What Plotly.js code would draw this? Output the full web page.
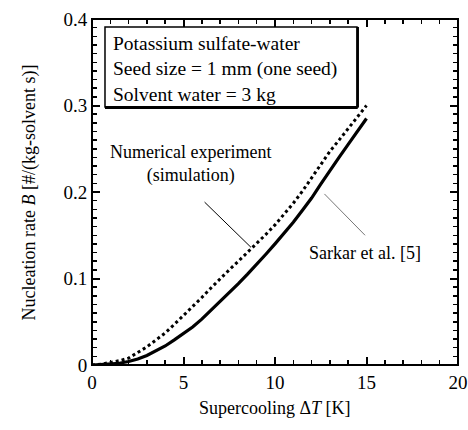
<!DOCTYPE html>
<html><head><meta charset="utf-8">
<script src="https://cdn.plot.ly/plotly-3.0.1.min.js"></script>
<style>body{margin:0;background:#fff}</style>
</head><body>
<div id="chart" style="width:468px;height:430px"></div>
<script>
var supercooling = [0,0.5,1,1.5,2,2.5,3,3.5,4,4.5,5,5.5,6,6.5,7,7.5,8,8.5,9,9.5,10,10.5,11,11.5,12,12.5,13,13.5,14,14.5,15];
var simulationB = [0,0.001,0.003,0.005,0.008,0.014,0.021,0.029,0.037,0.047,0.057,0.067,0.078,0.089,0.100,0.110,0.120,0.130,0.141,0.151,0.162,0.174,0.187,0.201,0.216,0.232,0.247,0.260,0.273,0.287,0.300];
var sarkarB = [0,0.0005,0.001,0.002,0.004,0.007,0.011,0.016,0.022,0.029,0.036,0.044,0.053,0.063,0.074,0.084,0.094,0.105,0.116,0.128,0.140,0.152,0.165,0.179,0.193,0.209,0.225,0.240,0.255,0.270,0.285];
var infoLines = ['Potassium sulfate-water','Seed size = 1 mm (one seed)','Solvent water = 3 kg'];
var xTitle = 'Supercooling \u0394<i>T</i> [K]';
var yTitle = 'Nucleation rate <i>B</i> [#/(kg-solvent s)]';

var font = 'Liberation Serif';
var traces = [
  {x: supercooling, y: sarkarB, mode: 'lines', showlegend: false, line: {color: '#000', width: 3.2}},
  {x: supercooling, y: simulationB, mode: 'lines', showlegend: false, line: {color: '#000', width: 3, dash: '3px,3px'}}
];
function axis(range, dtick, minorDtick) {
  return {
    range: range, dtick: dtick, showgrid: false, zeroline: false,
    showline: true, linecolor: '#000', mirror: 'allticks',
    ticks: 'inside', ticklen: 8, tickwidth: 2, tickcolor: '#000',
    minor: {ticks: 'inside', dtick: minorDtick, ticklen: 5, tickwidth: 1.5, tickcolor: '#000'},
    tickfont: {family: font, size: 19}
  };
}
var layout = {
  width: 468, height: 430,
  margin: {l: 92, r: 10, t: 19, b: 65},
  paper_bgcolor: '#fff', plot_bgcolor: '#fff',
  font: {family: font, color: '#000'},
  xaxis: axis([0, 20], 5, 1),
  yaxis: axis([0, 0.4], 0.1, 0.01),
  shapes: [
    {type: 'rect', xref: 'paper', yref: 'paper', x0: 0, x1: 1, y0: 0, y1: 1, line: {color: '#000', width: 2}, layer: 'above'},
    {type: 'rect', xref: 'paper', yref: 'paper', x0: 0.0355, x1: 0.724, y0: 0.746, y1: 0.977, line: {color: '#000', width: 1.5}, fillcolor: '#fff'},
    {type: 'line', xref: 'paper', yref: 'paper', x0: 0.0355, x1: 0.726, y0: 0.744, y1: 0.744, line: {color: '#000', width: 3}},
    {type: 'line', xref: 'paper', yref: 'paper', x0: 0.726, x1: 0.726, y0: 0.744, y1: 0.977, line: {color: '#000', width: 2.5}}
  ],
  annotations: [
    {xref: 'paper', yref: 'paper', x: 0.5, y: -0.158, text: xTitle, showarrow: false, font: {family: font, size: 18}},
    {xref: 'paper', yref: 'paper', x: -0.205, y: 0.5, text: yTitle, textangle: -90, showarrow: false, font: {family: font, size: 18}},
    {xref: 'paper', yref: 'paper', x: 0.052, y: 0.965, xanchor: 'left', yanchor: 'top', align: 'left',
     text: infoLines.join('<br>'), showarrow: false, font: {family: font, size: 19.5}},
    {x: 5.4, y: 0.232, text: 'Numerical experiment<br>(simulation)', showarrow: false, font: {family: font, size: 18}},
    {x: 8.69, y: 0.136, ax: 6.07, ay: 0.190, axref: 'x', ayref: 'y', showarrow: true, arrowhead: 0, arrowwidth: 1, arrowcolor: '#000', text: ''},
    {x: 14.92, y: 0.150, ax: 12.62, ay: 0.1995, axref: 'x', ayref: 'y', showarrow: true, arrowhead: 0, arrowwidth: 1, arrowcolor: '#777', text: ''},
    {x: 14.92, y: 0.129, text: 'Sarkar et al. [5]', showarrow: false, font: {family: font, size: 18}}
  ]
};
Plotly.newPlot('chart', traces, layout, {staticPlot: true, displayModeBar: false});
</script>
</body></html>
